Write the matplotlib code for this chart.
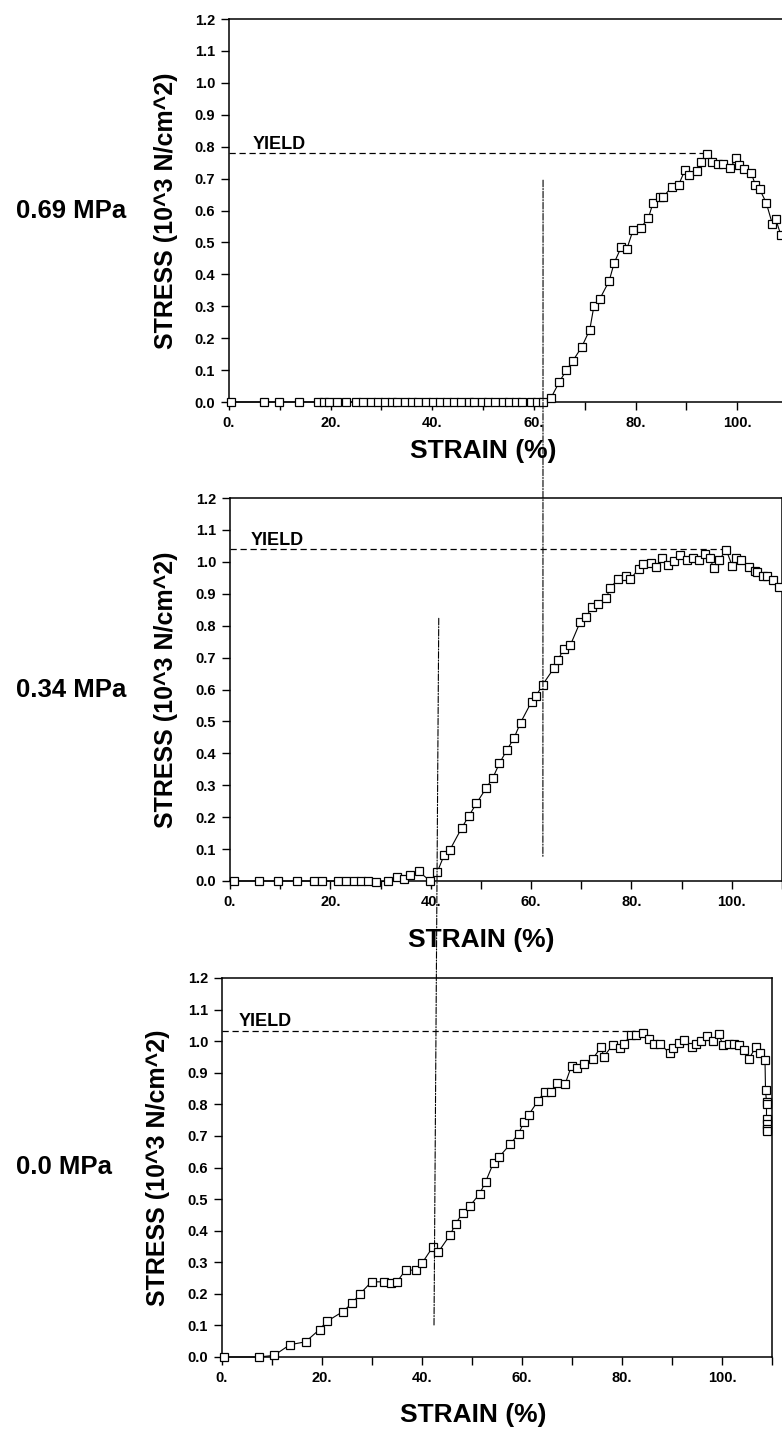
import matplotlib
matplotlib.use("Agg")
import matplotlib.pyplot as plt
from matplotlib.patches import ConnectionPatch

plt.rcParams['font.family'] = ['Liberation Sans', 'DejaVu Sans']
plt.rcParams['font.weight'] = 'bold'

# ---------------- data ----------------
pressure_labels = ["0.69 MPa", "0.34 MPa", "0.0 MPa"]

strain_069 = [0.4, 6.8, 9.8, 13.8, 17.5, 18.6, 19.6, 21.2, 23.0, 24.9, 26.4, 27.9, 29.4, 30.7,
              32.0, 33.1, 34.6, 36.1, 37.2, 38.7, 40.1, 41.6, 42.8, 44.2, 45.7, 47.2, 48.3,
              49.8, 50.9, 52.4, 53.9, 55.0, 56.5, 57.6, 59.5, 60.6, 61.7,
              63.4, 65.0, 66.4, 67.7, 69.4, 71.0, 71.8, 73.0, 74.8, 75.8, 77.2, 78.3, 79.5,
              81.0, 82.5, 83.4, 84.8, 85.4, 87.2, 88.5, 89.7, 90.6, 92.1, 92.8, 94.1, 95.0,
              96.2, 97.2, 98.6, 99.7, 100.4, 101.3, 102.8, 103.6, 104.4, 105.7, 106.9,
              107.6, 108.6]
stress_069 = [0.0] * 37 + [
              0.014, 0.063, 0.10, 0.13, 0.172, 0.227, 0.30, 0.324, 0.379, 0.436, 0.486, 0.48,
              0.538, 0.546, 0.575, 0.622, 0.641, 0.643, 0.674, 0.681, 0.726, 0.711, 0.723,
              0.753, 0.777, 0.753, 0.747, 0.745, 0.732, 0.763, 0.742, 0.729, 0.716, 0.679,
              0.667, 0.625, 0.559, 0.572, 0.523]

strain_034 = [0.7, 5.7, 9.6, 13.3, 16.7, 18.3, 21.5, 23.1, 24.8, 26.1, 27.5, 29.0, 31.4,
              33.2, 34.7, 35.9, 37.6, 39.9, 41.3, 42.7, 43.8, 46.2, 47.6, 49.1, 51.0, 52.4,
              53.7, 55.2, 56.6, 57.9, 60.1, 61.0, 62.3, 64.6, 65.4, 66.5, 67.8, 69.8, 70.9,
              72.2, 73.3, 75.0, 75.7, 77.4, 78.9, 79.8, 81.5, 82.3, 83.8, 84.8, 86.0, 87.3,
              88.5, 89.7, 91.0, 92.2, 93.4, 94.7, 95.6, 96.4, 97.5, 98.9, 100.1, 100.8,
              101.8, 103.5, 104.6, 105.1, 106.2, 107.1, 108.2, 109.4]
stress_034 = [0.0, 0.0, 0.0, 0.0, 0.0, 0.0, 0.0, 0.0, 0.0, 0.0, 0.0, -0.003, 0.0,
              0.011, 0.005, 0.019, 0.030, 0.0, 0.028, 0.082, 0.097, 0.167, 0.204, 0.243,
              0.29, 0.324, 0.369, 0.411, 0.448, 0.496, 0.562, 0.58, 0.615, 0.668, 0.693,
              0.728, 0.738, 0.812, 0.826, 0.86, 0.868, 0.886, 0.918, 0.946, 0.955, 0.946,
              0.979, 0.992, 0.997, 0.983, 1.011, 0.989, 1.004, 1.02, 1.007, 1.011, 1.007,
              1.023, 1.011, 0.981, 1.007, 1.037, 0.986, 1.011, 1.007, 0.984, 0.97, 0.968,
              0.955, 0.955, 0.942, 0.921]

strain_00 = [0.4, 7.3, 10.4, 13.6, 16.7, 19.5, 21.0, 24.1, 26.0, 27.6, 29.9, 32.3, 33.7,
             35.0, 36.7, 38.7, 40.0, 42.1, 43.2, 45.6, 46.7, 48.1, 49.6, 51.5, 52.7, 54.3,
             55.4, 57.6, 59.3, 60.4, 61.3, 63.2, 64.5, 65.8, 67.0, 68.6, 69.9, 71.0, 72.4,
             74.1, 75.8, 76.4, 78.1, 79.5, 80.4, 81.7, 82.8, 84.1, 85.4, 86.3, 87.6, 89.5,
             90.1, 91.3, 92.3, 93.9, 94.7, 95.8, 96.9, 98.2, 99.3, 100.2, 101.3, 102.4,
             103.3, 104.4, 105.4, 106.7, 107.6, 108.6, 108.7, 108.9, 108.9, 108.9, 108.9,
             108.9, 108.9]
stress_00 = [0.0, 0.0, 0.005, 0.039, 0.048, 0.087, 0.113, 0.143, 0.17, 0.20, 0.238, 0.238,
             0.235, 0.238, 0.275, 0.275, 0.297, 0.347, 0.331, 0.386, 0.421, 0.456, 0.479,
             0.516, 0.554, 0.615, 0.633, 0.673, 0.707, 0.744, 0.766, 0.811, 0.84, 0.84,
             0.869, 0.863, 0.922, 0.916, 0.927, 0.943, 0.981, 0.951, 0.988, 0.978, 0.99,
             1.02, 1.02, 1.025, 1.007, 0.992, 0.992, 0.962, 0.978, 0.994, 1.004, 0.983,
             0.99, 0.999, 1.015, 0.999, 1.023, 0.988, 0.99, 0.992, 0.988, 0.972, 0.944,
             0.98, 0.964, 0.941, 0.845, 0.808, 0.80, 0.755, 0.739, 0.723, 0.716]

yield_stress = [0.779, 1.039, 1.033]
yield_end_strain = [94.1, 98.9, 82.5]

x_ticks = list(range(0, 111, 10))
x_tick_labels = ["0.", "", "20.", "", "40.", "", "60.", "", "80.", "", "100.", ""]
y_ticks = [i / 10 for i in range(13)]
y_tick_labels = ["%.1f" % v for v in y_ticks]

# ---------------- figure ----------------
W, H = 782, 1432
fig = plt.figure(figsize=(W / 100, H / 100), dpi=100)


def box(left, top, right, bottom):
    return [left / W, 1 - bottom / H, (right - left) / W, (bottom - top) / H]


boxes = [box(229, 19, 788, 402), box(230, 498, 782, 881), box(222, 978, 772, 1357)]
series = [(strain_069, stress_069), (strain_034, stress_034), (strain_00, stress_00)]
yield_text_x = [4.6, 4.2, 3.4]
xlabel_y = [451, 940, 1415]
ylabel_x = [166, 166, 158]
plabel_x = [71, 71, 64]

axes = []
for i in range(3):
    ax = fig.add_axes(boxes[i])
    axes.append(ax)
    xs, ys = series[i]
    ax.plot(xs, ys, color='black', lw=0.8, marker='s', markersize=5.2,
            markerfacecolor='white', markeredgecolor='black', markeredgewidth=0.9,
            clip_on=False, zorder=3)
    ax.hlines(yield_stress[i], 0, yield_end_strain[i], colors='black',
              linestyles=(0, (5, 3)), lw=0.9, zorder=2)
    ax.text(yield_text_x[i], yield_stress[i] + 0.002, "YIELD", fontsize=13,
            fontweight='bold', ha='left', va='bottom')
    ax.set_xlim(0, 110)
    ax.set_ylim(0, 1.2)
    ax.set_xticks(x_ticks)
    ax.set_xticklabels(x_tick_labels, fontsize=10.5, fontweight='bold')
    ax.set_yticks(y_ticks)
    ax.set_yticklabels(y_tick_labels, fontsize=10.5, fontweight='bold')
    ax.tick_params(direction='out', length=6, width=1, pad=4)
    for s in ax.spines.values():
        s.set_linewidth(1.1)
    bb = boxes[i]
    fig.text(ylabel_x[i] / W, bb[1] + bb[3] / 2, "STRESS (10^3 N/cm^2)",
             rotation=90, ha='center', va='center', fontsize=18, fontweight='bold')
    fig.text(bb[0] + bb[2] * 0.455 if i < 2 else 473 / W, 1 - xlabel_y[i] / H, "STRAIN (%)",
             ha='center', va='center', fontsize=19, fontweight='bold')
    fig.text(plabel_x[i] / W, bb[1] + bb[3] * 0.5, pressure_labels[i],
             ha='center', va='center', fontsize=18.5, fontweight='bold')

# dash-dot guide lines crossing panels
guides = [((61.8, 0.695), 0, (62.35, 0.074), 1),
          ((41.6, 0.823), 1, (42.4, 0.098), 2)]
for (pa, ia, pb, ib) in guides:
    con = ConnectionPatch(xyA=pa, coordsA=axes[ia].transData,
                          xyB=pb, coordsB=axes[ib].transData,
                          linestyle=(0, (6, 1.5, 1, 1.5)), lw=0.8, color='black', zorder=1)
    fig.add_artist(con)

fig.savefig("out.png", dpi=100)
